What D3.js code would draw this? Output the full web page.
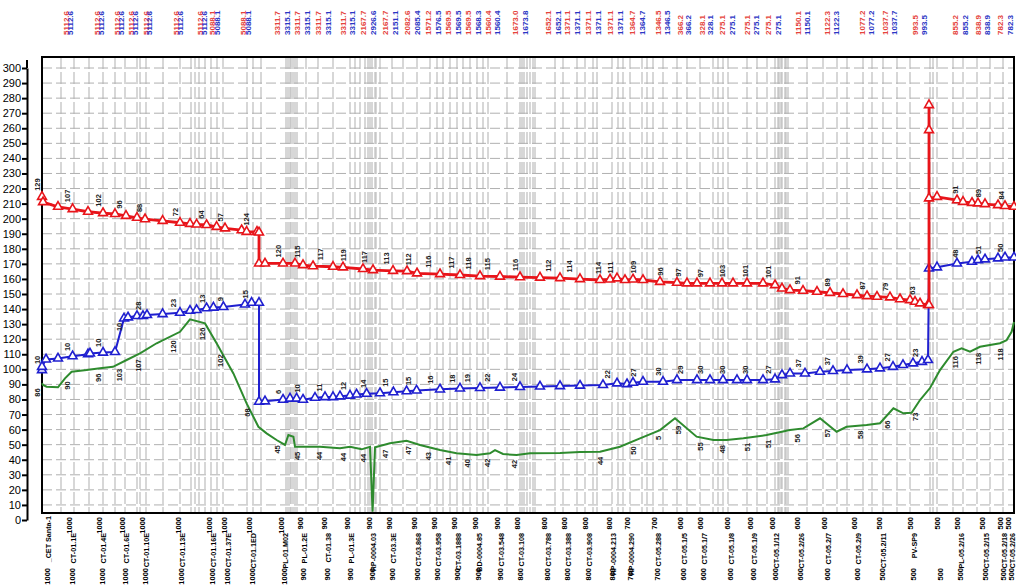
<!DOCTYPE html>
<html>
<head>
<meta charset="utf-8">
<script src="https://cdn.jsdelivr.net/npm/d3@7"></script>
<style>
  body { margin: 0; background: #fff; }
  text { font-family: "Liberation Sans Narrow", "Liberation Sans", Arial, sans-serif; }
</style>
</head>
<body>
<svg id="chart" width="1016" height="586"></svg>
<script>
// chainage in km along the line, heads in m
var redLine = [[0,214.5],[0.5,211],[8,207.9],[15.3,206.4],[23,204.6],[30.5,203.7],[36.5,203.1],[42,201.9],[47.5,200.6],
  [51.5,199.7],[60.3,198.6],[69,197.3],[74,196.6],[77.3,196.2],[82.3,195.8],[87.3,194.6],[91.5,193.6],[99.8,192.4],
  [102.3,191.3],[107.5,191.3],[108.5,190.9],[108.5,170.3],[111.5,170.3],[120.5,170.3],[126.5,170.3],[130.5,169.2],
  [135.5,168.5],[145.5,168.1],[150.5,167.7],[160.5,166.6],[165.5,165.9],[175.5,165.4],[182.5,165.2],[187.5,163.7],
  [199,163.2],[209,162.6],[219,161.9],[229,161.6],[239,161.2],[249,160.9],[259,160.6],[269,159.9],[279,159.3],
  [284,159.7],[287.5,160.4],[291.5,159.3],[295.5,159.7],[300.5,159.3],[309,158.1],[317.5,157.5],[322.5,157.1],
  [327.5,157.1],[334,157.1],[340,157.1],[345.5,157.1],[352.5,157.1],[360.5,157.1],[366.5,155.9],[370,153.7],
  [374,152.6],[380.5,152.2],[387.5,151.5],[394,150.8],[400.5,150.0],[407.5,149.3],[412.5,148.6],[417.5,148.2],
  [424,147.8],[429,146.6],[434,146.0],[436.5,144.9],[439,143.8],[443,142.7],[443.5,142.7],[443.5,275.4],
  [443.5,258.8],[443.5,213.5],[447.5,214.5],[457.5,212.3],[460.5,211.2],[465,210.5],[468,210.2],[471.5,209.7],
  [478,209.0],[481.5,208.4],[486,207.9]];

var blueLine = [[0,99.5],[0,101.7],[2,106.6],[8,107.2],[15.3,108.7],[23,110.0],[24,110.5],[30.5,111.1],[36.5,111.5],
  [41,133.8],[43,134.5],[47.5,135.4],[50.5,135.4],[52.5,136.1],[60.3,136.7],[69,137.6],[74,138.9],[77.3,139.4],
  [82.3,140.6],[85.7,141.0],[90.7,141.4],[101.5,143.1],[104.8,144.2],[108.5,144.2],[108.5,78.5],[111.5,78.8],
  [120.5,79.9],[124,80.6],[127.3,80.6],[130.5,79.9],[136.5,81.2],[141.5,81.6],[145.5,81.6],[149,82.1],[154,82.6],
  [157.3,83.3],[162.3,83.8],[169,84.2],[175.7,84.8],[182.3,85.5],[187.3,86.0],[199,86.7],[209,87.3],[219,87.6],
  [229,87.9],[239,88.3],[249,88.6],[259,88.9],[269,89.2],[280.5,89.6],[287.5,90.7],[292.5,90.2],[295.5,91.1],
  [300.5,91.8],[310.5,91.8],[317.5,92.9],[327.5,92.9],[334,92.9],[340.5,92.9],[347.5,92.9],[352.5,92.9],
  [360.5,92.9],[366.5,93.4],[370,96.2],[374,97.3],[381.5,97.3],[389,98.4],[395.5,98.9],[402.5,99.5],[412.5,100.0],
  [419,100.7],[425.5,101.7],[430.5,102.9],[435.5,104.0],[440,105.0],[443,106.2],[443.5,167.0],[447.5,167.7],
  [457.5,170.3],[465,171.4],[468,172.5],[471.5,173.0],[478,173.7],[481.5,174.3],[486,174.3]];

var greenLine = [[0,90.7],[0.5,89.6],[2.3,88.5],[8,88.1],[11.5,94.0],[14.8,98.4],[22.3,99.5],[29,100.7],[35.5,101.7],
  [42.3,106.2],[49,110.6],[57.3,117.3],[69,124.9],[74,133.2],[81.5,130.5],[87.3,117.3],[95.7,97.3],[102.3,77.4],
  [108.2,61.9],[112.3,57.5],[117.3,53.1],[121.5,49.8],[123.2,56.4],[125.7,55.3],[126.5,48.6],[131.5,48.6],
  [139,48.6],[149,47.6],[154,48.6],[159.8,46.9],[164,48.6],[165.3,5.5],[166.5,48.2],[174,50.9],[182.3,52.6],
  [189,49.8],[199,46.4],[207.3,44.3],[217.3,43.1],[224,44.3],[226.5,46.4],[230.5,43.8],[237.3,43.1],[244,44.3],
  [259,44.5],[269,45.1],[279,45.3],[289,48.6],[299,54.2],[309,59.7],[316.5,67.5],[327.3,55.3],[335.7,53.1],
  [342.3,53.1],[350.7,54.2],[362.3,56.4],[374,59.7],[380.7,60.8],[389,67.5],[397.3,58.6],[402.3,61.9],
  [412.3,63.0],[419,64.2],[425.7,74.1],[430.7,70.8],[434.8,71.2],[439,79.6],[444,87.6],[449,99.5],[455.7,111.7],
  [459.8,113.9],[464,111.7],[469,115.0],[479,117.3],[482.3,119.4],[484.8,124.9],[486,131.4]];

// small station values written on the lines
var redTagKm = [-2.5,12.5,28,38.5,48.5,66.5,79.5,89,102,118,127.3,139,150.5,161,172,183,193,204.5,213,222.5,236.5,
  253,263.5,278,284,295.5,309,318,329,340,351.5,363,377.5,392.5,410,421.5,435,456.5,468,479.5];
var redTagText = ["129","107","102","96","88","72","64","57","124","120","115","117","119","117","113","112","116",
  "117","118","115","116","112","114","114","111","109","96","97","97","103","101","101","91","89","87","79","63",
  "91","89","84"];
var blueTagKm = [-2.5,12.5,28,38.5,48,65.5,80,89,101.5,118,127.3,138.5,150.3,160.5,171.5,183,194,204.8,212.5,222.3,
  236,282.5,295.5,308,319,329,340,351.5,363,378,392.5,409,422.5,436.5,456.5,468,479];
var blueTagText = ["10","10","10","10","28","23","13","9","15","6","10","11","12","14","15","15","16","18","19",
  "22","24","22","27","30","29","30","30","30","27","37","37","39","27","23","48","51","50"];
var greenTagKm = [-2.5,12.5,28,38.5,48,65.5,80,89,102.3,117.5,127.3,138.5,150.3,160.5,171.5,183,193,203,212.5,
  222.5,236,279,295.5,308,318,329,340,352.5,363,377.5,392.5,409,422.5,436.5,456.5,468,479];
var greenTagText = ["86","90","96","103","107","120","126","102","68","45","45","44","44","44","47","47","43","41",
  "40","42","42","44","50","5","59","55","48","51","51","56","57","58","66","73","116","118","118"];

// pipe data printed along the top (pairs: red = upstream, blue = downstream)
var topKm = [11.9,14,27.4,29.4,37.7,39.7,44.5,46.5,52,53.5,67,69,79,81,85,87.5,100.5,103,117.5,122.5,127.5,132.5,
  138,143,150.7,154.9,160.7,165.7,171.5,176.5,182.4,187.4,193.2,198.2,203.2,208.2,213.2,218.2,223.2,227.4,236.5,
  241.5,253.2,258.2,262.4,267.4,273.2,278.2,284,289,294.9,299.9,308.2,312.4,319,323.2,329.9,334,339.9,344.9,
  352.4,357,363.2,368.2,378.2,382.4,392.4,396.9,409.9,414.5,421.5,426,436.5,441,456.5,461.5,468.2,472.7,479,484];
var topText = ["5112.6","5112.6","5112.6","5112.6","5112.6","5112.6","5112.6","5112.6","5112.6","5112.6","5112.6",
  "5112.6","5112.6","5112.6","5088.1","5088.1","5088.1","5088.1","3311.7","3315.1","3311.7","3315.1","3311.7",
  "3315.1","3311.7","3315.1","2167.7","2926.6","2167.7","2151.1","2082.6","2085.4","1571.2","1576.5","1569.5",
  "1569.5","1569.5","1568.3","1560.4","1560.4","1673.0","1673.8","1652.1","1652.1","1371.1","1371.1","1371.1",
  "1371.1","1371.1","1371.1","1364.7","1364.7","1346.5","1346.5","366.2","366.2","328.1","328.1","275.1","275.1",
  "275.1","275.1","275.1","275.1","1150.1","1150.1","1122.3","1122.3","1077.2","1077.2","1037.7","1037.7",
  "993.5","993.5","855.2","855.2","838.9","838.9","782.3","782.3"];

// stations along the bottom
var stationKm = [2.3,14.8,29.8,41.5,51.5,69.5,84.8,92.3,104.8,121,130.7,142.3,154,164.8,174.8,187.3,197.3,207.3,
  218.2,229,239,252.3,262.3,273,284.8,294,307.3,320.7,330.7,344,355.7,366.5,379,392.3,407.3,419.8,435.7,449,459,
  471.5,480.5,484.5];
var stationName = ["_CET Santa-1","CT-01.1E","CT-01.4E","CT-01.6E","CT-01.10E","CT-01.13E","CT-01.16E",
  "CT-01.37E","CT-01.1ED","PL-01.M02","PL-01.2E","CT-01.38","PL-01.3E","RP-0004.03","CT-03.3E","CT-03.868",
  "CT-03.958","CT-03.1888","BD-0004.85","CT-03.548","CT-03.108","CT-03.788","CT-03.388","CT-03.908",
  "RP-0004.213","RP-0004.290","CT-05.288","CT-05.1/5","CT-05.1/7","CT-05.1/8","CT-05.1/9","CT-05.1/12",
  "CT-05.2/26","CT-05.2/7","CT-05.2/9","CT-05.2/11","PV-SP9","","PL-05.2/16","CT-05.2/15","CT-05.2/18",
  "CT-05.2/26"];
var stationDia = ["1000","1000","1000","1000","1000","1000","1000","1000","1000","1000","900","900","900","900",
  "900","900","900","900","900","900","800","800","800","800","800","700","700","600","600","600","600","600",
  "600","600","600","500","500","500","500","500","500","500"];

// node positions drawn as grid lines
var gridKm = [9.5,16,23.5,30.5,36.5,41.5,47.5,49,52,60.5,69,74.5,76.5,78.5,81.5,84.5,87.5,90.5,102.5,105.5,109.5,
  122,123,124,124.5,125.5,126.5,127.5,132,138,145.5,154,156.5,159,161.5,163,164,165,166.5,167,169,175,180.5,187.5,
  194,197.5,200.5,204,207.5,210.5,214,217.5,220.5,223,232.5,239,240,241,242.5,244,245.5,246.5,256.5,260.5,267.5,
  271.5,275.5,277.5,285,288,290.5,294,300,302.5,305.5,310.5,317.5,322.5,329,335.5,338,340.5,343,352.5,357.5,
  362.5,366.5,368,368.5,369.5,370,371.5,372,373,382.5,390.5,397.5,402.5,410.5,415,420.5,427.5,434,444,445.5,
  447.5,455.5,460.5,467.5,474,480.5];

var x = d3.scaleLinear().domain([0, 486]).range([42, 1014]);
var y = d3.scaleLinear().domain([0, 300]).range([520, 68]);

var svg = d3.select('#chart');
var plotTop = 57, plotBottom = 513;

// grid
svg.append('g').selectAll('line')
    .data(gridKm)
    .enter().append('line')
    .attr('x1', function (d) { return x(d); })
    .attr('x2', function (d) { return x(d); })
    .attr('y1', plotTop)
    .attr('y2', plotBottom)
    .attr('stroke', '#bdbdbd')
    .attr('stroke-width', 1.2)
    .attr('stroke-dasharray', '12,3');

svg.append('g').selectAll('line')
    .data(d3.range(10, 301, 10))
    .enter().append('line')
    .attr('x1', x.range()[0])
    .attr('x2', x.range()[1])
    .attr('y1', function (d) { return y(d); })
    .attr('y2', function (d) { return y(d); })
    .attr('stroke', '#b0b0b0')
    .attr('stroke-width', 1)
    .attr('stroke-dasharray', '10,4');

// frame
svg.append('rect')
    .attr('x', x.range()[0]).attr('y', plotTop)
    .attr('width', x.range()[1] - x.range()[0]).attr('height', plotBottom - plotTop)
    .attr('fill', 'none').attr('stroke', '#000').attr('stroke-width', 2);

// left axis
var axis = svg.append('g')
    .attr('transform', 'translate(27,0)')
    .call(d3.axisLeft(y).tickValues(d3.range(0, 301, 10)).tickSize(5).tickPadding(1).tickSizeOuter(0));
axis.select('.domain').attr('stroke-width', 2);
axis.selectAll('.tick line').attr('stroke-width', 2);
axis.selectAll('.tick text').attr('font-size', 11).attr('font-family', '"Liberation Sans Narrow", Arial, sans-serif');
axis.append('line').attr('x1', 0).attr('x2', 0).attr('y1', 60).attr('y2', y(300))
    .attr('stroke', '#000').attr('stroke-width', 2);

// lines
var line = d3.line()
    .x(function (d) { return x(d[0]); })
    .y(function (d) { return y(d[1]); });

svg.append('path').datum(greenLine)
    .attr('d', line).attr('fill', 'none').attr('stroke', '#2e8b2e').attr('stroke-width', 2);

var series = [
    {data: blueLine, color: '#1f1fd0', width: 2},
    {data: redLine, color: '#e8141a', width: 2.8}
];
series.forEach(function (s) {
    svg.append('path').datum(s.data)
        .attr('d', line).attr('fill', 'none').attr('stroke', s.color).attr('stroke-width', s.width);
    svg.append('g').selectAll('path')
        .data(s.data)
        .enter().append('path')
        .attr('d', d3.symbol().type(d3.symbolTriangle).size(34))
        .attr('transform', function (d) { return 'translate(' + x(d[0]) + ',' + y(d[1]) + ')'; })
        .attr('fill', '#fff')
        .attr('stroke', s.color)
        .attr('stroke-width', 1.6);
});

// value on a line at km k
function at(s, k) {
    if (k <= s[0][0]) return s[0][1];
    for (var i = 1; i < s.length; i++) {
        if (s[i][0] >= k) {
            var a = s[i - 1], b = s[i];
            if (b[0] === a[0]) return b[1];
            return a[1] + (b[1] - a[1]) * (k - a[0]) / (b[0] - a[0]);
        }
    }
    return s[s.length - 1][1];
}

function tags(km, txt, s, above) {
    svg.append('g').selectAll('text')
        .data(km)
        .enter().append('text')
        .attr('transform', function (d) {
            var yy = y(at(s, d)) + (above ? -6 : 5);
            return 'translate(' + (x(d) + 3) + ',' + yy + ') rotate(-90)';
        })
        .attr('text-anchor', above ? 'start' : 'end')
        .attr('font-size', 7.5)
        .attr('font-weight', 'bold')
        .attr('fill', '#222')
        .text(function (d, i) { return txt[i]; });
}
tags(redTagKm, redTagText, redLine, true);
tags(blueTagKm, blueTagText, blueLine, true);
tags(greenTagKm, greenTagText, greenLine, false);

// top labels
svg.append('g').selectAll('text')
    .data(topKm)
    .enter().append('text')
    .attr('transform', function (d) { return 'translate(' + (x(d) + 3) + ',35) rotate(-90)'; })
    .attr('font-size', 8)
    .attr('font-weight', 'bold')
    .attr('fill', function (d, i) { return i % 2 ? '#2b35c4' : '#e5443c'; })
    .text(function (d, i) { return topText[i]; });

// station labels
var st = svg.append('g').selectAll('g')
    .data(stationKm)
    .enter().append('g')
    .attr('transform', function (d) { return 'translate(' + x(d) + ',0)'; });

st.append('text')
    .attr('transform', function (d, i) { return 'translate(4,' + (i === 0 ? 516 : 533) + ') rotate(-90)'; })
    .attr('text-anchor', 'end')
    .attr('font-size', 7.2)
    .attr('font-weight', 'bold')
    .text(function (d, i) { return stationName[i]; });

st.append('text')
    .attr('transform', 'translate(0,517) rotate(-90)')
    .attr('text-anchor', 'end')
    .attr('font-size', 7.5)
    .attr('font-weight', 'bold')
    .text(function (d, i) { return i === 0 ? '' : stationDia[i]; });

st.append('text')
    .attr('transform', 'translate(3,568) rotate(-90)')
    .attr('text-anchor', 'end')
    .attr('font-size', 7.5)
    .attr('font-weight', 'bold')
    .text(function (d, i) { return stationDia[i]; });
</script>
</body>
</html>
